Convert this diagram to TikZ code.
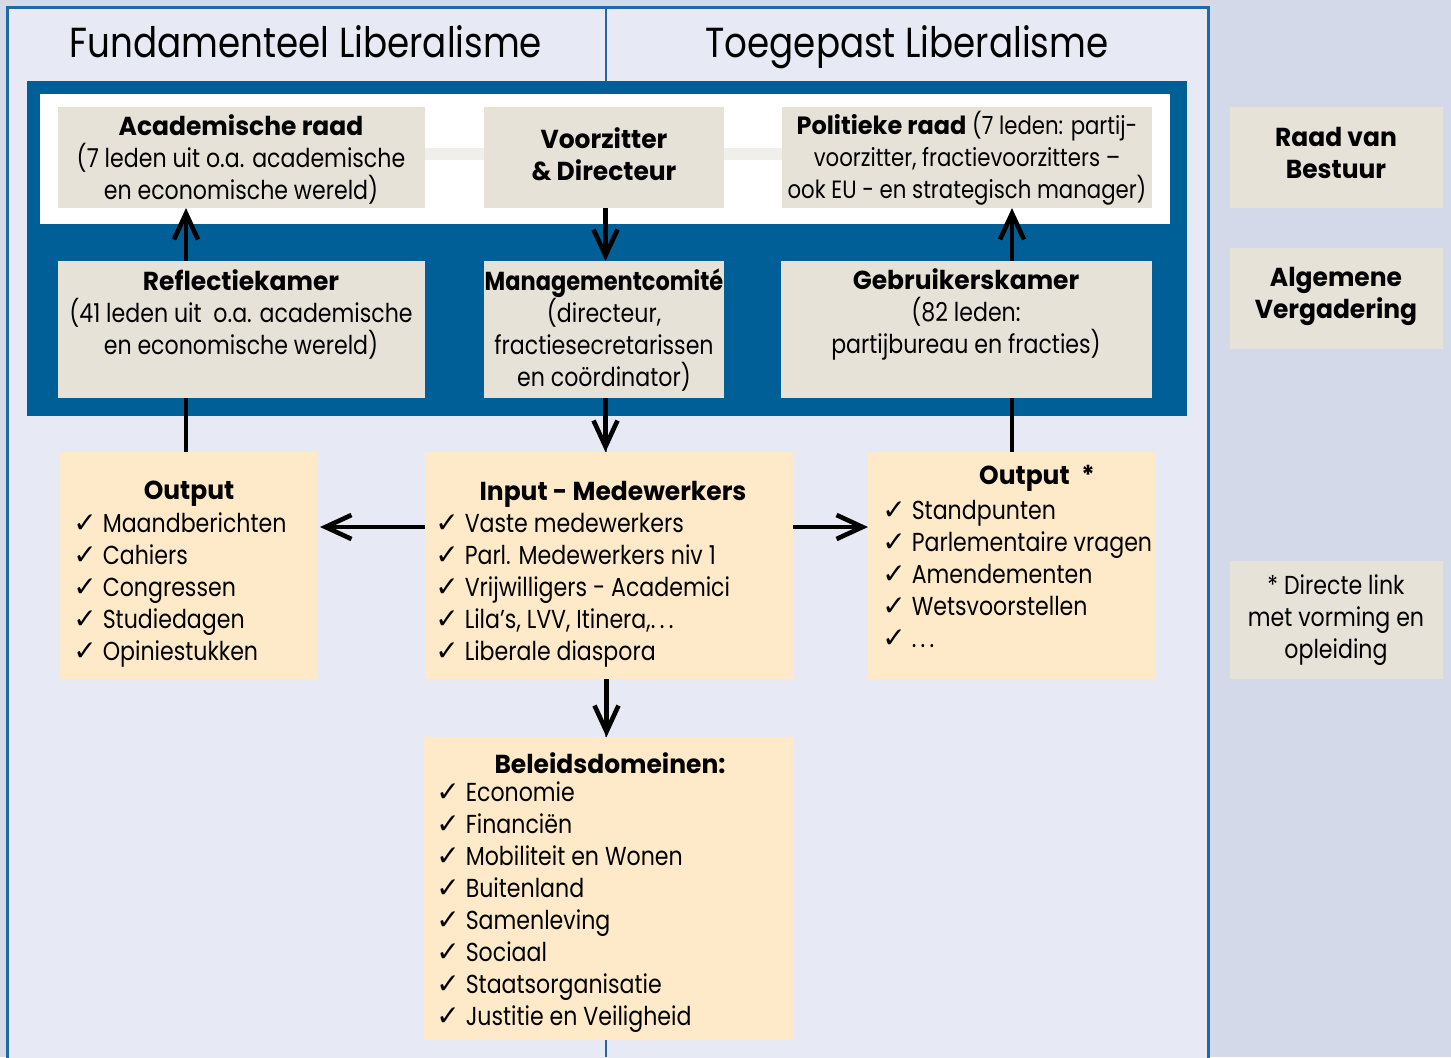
\documentclass[tikz,border=0pt]{standalone}
\usepackage{fontspec}
\setmainfont{Poppins}[FakeStretch=0.85, BoldFeatures={FakeStretch=0.96}]
\newfontfamily\checkfont{DejaVu Sans}
\usepackage{tikz}
\usetikzlibrary{arrows.meta}
\usetikzlibrary{fit}
\usetikzlibrary{positioning}

\definecolor{pagebg}{HTML}{D3D9E8}
\definecolor{panelbg}{HTML}{E7EAF4}
\definecolor{panelline}{HTML}{1F6AA2}
\definecolor{blueblock}{HTML}{005F96}
\definecolor{beigebox}{HTML}{E6E2D8}
\definecolor{yellowbox}{HTML}{FEE9C8}
\definecolor{bandcol}{HTML}{F0EFEA}

\newcommand{\chk}{{\checkfont\bfseries\fontsize{14}{16}\selectfont ✓}}
\newcommand{\dotsx}{.\,.\,.}

\tikzstyle{beige} = [fill=beigebox, inner sep=0pt, outer sep=0pt]
\tikzstyle{yellow} = [fill=yellowbox, inner sep=0pt, outer sep=0pt]
\tikzstyle{txt} = [align=center, inner sep=0pt, font=\fontsize{13}{16}\selectfont]
\tikzstyle{lst} = [align=left, anchor=west, inner sep=0pt, font=\fontsize{13}{16}\selectfont]
\tikzstyle{title} = [inner sep=0pt, anchor=base, font=\fontsize{21}{25}\selectfont]
\tikzstyle{line} = [draw, line width=2.3pt]
\tikzstyle{arr} = [line, -{Straight Barb[length=13pt,width=12pt,line width=2.3pt]}]
\tikzstyle{band} = [draw=bandcol, line width=6pt]

\begin{document}
\begin{tikzpicture}[x=0.5pt, y=-0.5pt]
	% -------------- background --------------
	\fill[pagebg] (0,0) rectangle (1451,1057);
	\useasboundingbox (0,0) rectangle (1451,1057);
	\draw[panelline, line width=1.5pt, fill=panelbg] (7,7) rectangle (1208,1070);
	\draw[panelline, line width=1pt] (606,7) -- (606,1057);
	\node[title] (fundtitle) at (306,57) {Fundamenteel Liberalisme};
	\node[title] (toegtitle) at (907,57) {Toegepast Liberalisme};
	\fill[blueblock] (27,81) rectangle (1187,416);
	\fill[white] (40,94) rectangle (1170,224);
	% -------------- top row --------------
	\node[beige, fit={(58,107) (425,208)}] (acad) {};
	\node[beige, fit={(484,107) (724,208)}] (voorz) {};
	\node[beige, fit={(782,107) (1152,208)}] (polit) {};
	\node[txt] (acadtxt) at (241,159.5) {\textbf{Academische raad}\\(7 leden uit o.a. academische\\en economische wereld)};
	\node[txt] (voorztxt) at (604,154) {\textbf{Voorzitter}\\\textbf{\& Directeur}};
	\node[txt, font=\fontsize{12.5}{16}\selectfont] (polittxt) at (967,158) {\textbf{Politieke raad} (7 leden: partij-\\voorzitter, fractievoorzitters --\\ook EU - en strategisch manager)};
	\coordinate (bandy) at (0,154);
	\draw[band] (acad.east |- bandy) -- (voorz.west |- bandy);
	\draw[band] (voorz.east |- bandy) -- (polit.west |- bandy);
	% -------------- second row --------------
	\node[beige, fit={(58,261) (425,398)}] (reflect) {};
	\node[beige, fit={(484,261) (724,398)}] (mgmt) {};
	\node[beige, fit={(781,261) (1152,398)}] (gebr) {};
	\node[txt] (reflecttxt) at (241,314) {\textbf{Reflectiekamer}\\(41 leden uit\ \ o.a. academische\\en economische wereld)};
	\node[txt] (mgmttxt) at (604,330) {\scalebox{0.9}[1]{\textbf{Managementcomité}}\\(directeur,\\fractiesecretarissen\\en coördinator)};
	\node[txt] (gebrtxt) at (966,314) {\textbf{Gebruikerskamer}\\(82 leden:\\partijbureau en fracties)};
	% -------------- right column --------------
	\node[beige, fit={(1230,107) (1443,208)}] (raad) {};
	\node[beige, fit={(1230,248) (1443,349)}] (algem) {};
	\node[beige, fit={(1230,561) (1443,679)}] (link) {};
	\node[txt] (raadtxt) at (1336,153) {\textbf{Raad van}\\\textbf{Bestuur}};
	\node[txt] (algemtxt) at (1336,296) {\textbf{Algemene}\\\textbf{Vergadering}};
	\node[txt] (linktxt) at (1336,620) {* Directe link\\met vorming en\\opleiding};
	% -------------- output / input --------------
	\node[yellow, fit={(60,452) (317,679)}] (outl) {};
	\node[yellow, fit={(425,452) (793,679)}] (input) {};
	\node[yellow, fit={(868,452) (1155,679)}] (outr) {};
	\node[yellow, fit={(424,737) (793,1040)}] (beleid) {};
	\node[txt] (outltitle) at (189,494) {\textbf{Output}};
	\node[lst] (outllist) at (73,590) {\chk\ Maandberichten\\\chk\ Cahiers\\\chk\ Congressen\\\chk\ Studiedagen\\\chk\ Opiniestukken};
	\node[txt] (inputtitle) at (613,494) {\textbf{Input - Medewerkers}};
	\node[lst] (inputlist) at (435,590) {\chk\ Vaste medewerkers\\\chk\ Parl. Medewerkers niv 1\\\chk\ Vrijwilligers - Academici\\\chk\ Lila’s, LVV, Itinera,\dotsx\\\chk\ Liberale diaspora};
	\node[txt] (outrtitle) at (1037,478) {\textbf{Output}\ \ \textbf{*}};
	\node[lst] (outrlist) at (882,574) {\chk\ Standpunten\\\chk\ Parlementaire vragen\\\chk\ Amendementen\\\chk\ Wetsvoorstellen\\\chk\ \dotsx};
	\node[txt] (beleidtitle) at (610,763) {\textbf{Beleidsdomeinen:}};
	\node[lst] (beleidlist) at (436,907) {\chk\ Economie\\\chk\ Financiën\\\chk\ Mobiliteit en Wonen\\\chk\ Buitenland\\\chk\ Samenleving\\\chk\ Sociaal\\\chk\ Staatsorganisatie\\\chk\ Justitie en Veiligheid};
	% -------------- connectors --------------
	\coordinate (colL) at (186,0);
	\coordinate (colM) at (605.5,0);
	\coordinate (colR) at (1012,0);
	\coordinate (colB) at (606.5,0);
	\coordinate (rowI) at (0,527);
	\draw[arr] (reflect.north -| colL) -- (acad.south -| colL);
	\draw[arr] (voorz.south -| colM) -- (mgmt.north -| colM);
	\draw[arr] (gebr.north -| colR) -- (polit.south -| colR);
	\draw[line] (reflect.south -| colL) -- (outl.north -| colL);
	\draw[arr] (mgmt.south -| colM) -- (input.north -| colM);
	\draw[line] (gebr.south -| colR) -- (outr.north -| colR);
	\draw[arr] (input.west |- rowI) -- ([xshift=1.5pt]outl.east |- rowI);
	\draw[arr] (input.east |- rowI) -- (outr.west |- rowI);
	\draw[arr] (input.south -| colB) -- (beleid.north -| colB);
\end{tikzpicture}
\end{document}
